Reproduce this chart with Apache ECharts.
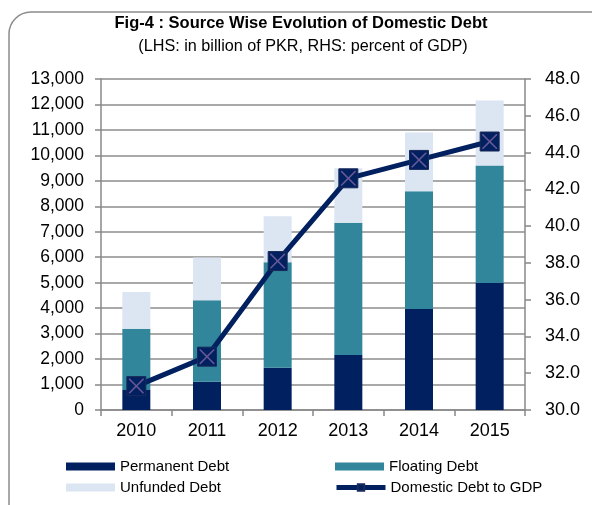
<!DOCTYPE html>
<html>
<head>
<meta charset="utf-8">
<script src="https://cdn.jsdelivr.net/npm/echarts@6/dist/echarts.min.js"></script>
<style>
  html, body { margin: 0; padding: 0; background: #fff; }
  #chartDiv { width: 592px; height: 505px; }
</style>
</head>
<body>
<div id="chartDiv"></div>
<script>
var years = ['2010', '2011', '2012', '2013', '2014', '2015'];
var permanentDebt = [790, 1110, 1660, 2160, 3970, 4990];
var floatingDebt = [2400, 3200, 4140, 5190, 4620, 4610];
var unfundedDebt = [1440, 1680, 1810, 2140, 2310, 2560];
var debtToGdp = [31.3, 32.9, 38.1, 42.6, 43.6, 44.6];

var fontName = '"Liberation Sans", Arial, sans-serif';
var crossPath = 'path://M0,0 L1.5,0 L10,8.5 L18.5,0 L20,0 L20,1.5 L11.5,10 L20,18.5 L20,20 L18.5,20 L10,11.5 L1.5,20 L0,20 L0,18.5 L8.5,10 L0,1.5 Z';

// one legend per entry so they sit in two columns like the original
function legendAt(name, left, top, icon) {
    var l = {
        left: left, top: top,
        itemWidth: 49, itemHeight: 8,
        data: [name],
        textStyle: { fontSize: 15, color: '#000', fontFamily: fontName }
    };
    if (icon) l.icon = icon;
    else l.lineStyle = { width: 5 };
    return l;
}

var option = {
    backgroundColor: '#fff',
    textStyle: { fontFamily: fontName },
    title: [
        {
            text: 'Fig-4 : Source Wise Evolution of Domestic Debt',
            left: 296, top: 10, textAlign: 'center',
            textStyle: { fontSize: 16.5, fontWeight: 'bold', color: '#000', fontFamily: fontName }
        },
        {
            text: '(LHS: in billion of PKR, RHS: percent of GDP)',
            left: 298, top: 34, textAlign: 'center',
            textStyle: { fontSize: 16.2, fontWeight: 'normal', color: '#000', fontFamily: fontName }
        }
    ],
    graphic: [
        {
            type: 'rect',
            shape: { x: 9, y: 12, width: 620, height: 540, r: 22 },
            style: { fill: 'none', stroke: '#8c8c8c', lineWidth: 1.5 },
            silent: true
        }
    ],
    legend: [
        legendAt('Permanent Debt', 61, 454, 'rect'),
        legendAt('Unfunded Debt', 61, 475, 'rect'),
        legendAt('Floating Debt', 330, 454, 'rect'),
        legendAt('Domestic Debt to GDP', 329, 475)
    ],
    grid: { left: 101, right: 67, top: 79, bottom: 95 },
    xAxis: {
        type: 'category',
        data: years,
        axisLine: { lineStyle: { color: '#888', width: 1.5 } },
        axisTick: { show: true, length: 6, lineStyle: { color: '#888', width: 1.5 } },
        axisLabel: { fontSize: 18, color: '#000', margin: 12 },
        splitLine: { show: false }
    },
    yAxis: [
        {
            type: 'value', min: 0, max: 13000, interval: 1000,
            axisLine: { show: true, lineStyle: { color: '#888', width: 1.5 } },
            axisTick: { show: true, length: 6, lineStyle: { color: '#888', width: 1.5 } },
            axisLabel: {
                fontSize: 17.5, color: '#000', margin: 17,
                formatter: function (v) { return v.toLocaleString('en-US'); }
            },
            splitLine: { show: true, lineStyle: { color: '#8c8c8c', width: 1.5 } }
        },
        {
            type: 'value', min: 30, max: 48, interval: 2,
            axisLine: { show: true, lineStyle: { color: '#888', width: 1.5 } },
            axisTick: { show: true, length: 6, lineStyle: { color: '#888', width: 1.5 } },
            axisLabel: {
                fontSize: 18, color: '#000', margin: 20,
                formatter: function (v) { return v.toFixed(1); }
            },
            splitLine: { show: false }
        }
    ],
    series: [
        {
            name: 'Permanent Debt', type: 'bar', stack: 'debt', barWidth: 28,
            itemStyle: { color: '#002060' }, data: permanentDebt
        },
        {
            name: 'Floating Debt', type: 'bar', stack: 'debt', barWidth: 28,
            itemStyle: { color: '#31869b' }, data: floatingDebt
        },
        {
            name: 'Unfunded Debt', type: 'bar', stack: 'debt', barWidth: 28,
            itemStyle: { color: '#dce6f2' }, data: unfundedDebt
        },
        {
            name: 'Domestic Debt to GDP', type: 'line', yAxisIndex: 1,
            symbol: 'rect', symbolSize: 19, showAllSymbol: true,
            lineStyle: { color: '#002060', width: 5 },
            itemStyle: { color: '#002060', borderColor: '#1a2a5a', borderWidth: 1 },
            data: debtToGdp, z: 5
        },
        {
            name: 'cross', type: 'scatter', yAxisIndex: 1,
            symbol: crossPath, symbolSize: 15,
            itemStyle: { color: '#8064a2' },
            data: debtToGdp, z: 6, silent: true
        }
    ]
};

var chart = echarts.init(document.getElementById('chartDiv'));
chart.setOption(option);
</script>
</body>
</html>
